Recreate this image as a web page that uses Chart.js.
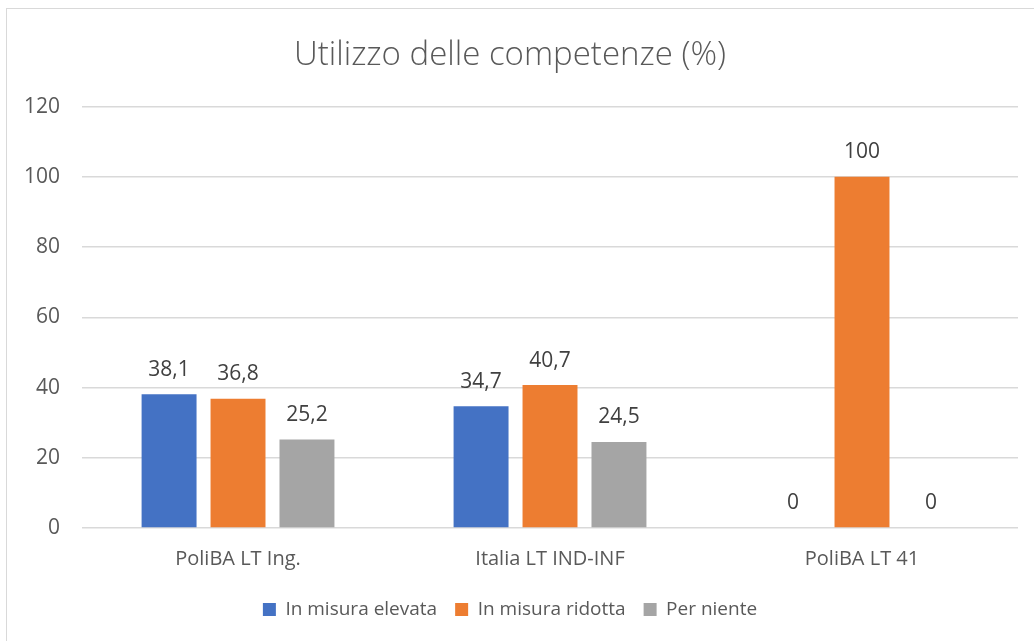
<!DOCTYPE html>
<html>
<head>
<meta charset="utf-8">
<script src="https://cdn.jsdelivr.net/npm/chart.js@4/dist/chart.umd.min.js"></script>
<style>
  html, body { margin: 0; padding: 0; background: #fff; overflow: hidden; }
  #frame {
    position: absolute; left: 6px; top: 8px;
    width: 1100px; height: 700px;
    border: 1px solid #d9d9d9;
  }
  #wrap { position: absolute; left: 0; top: 0; width: 1034px; height: 641px; }
</style>
</head>
<body>
<div id="frame"></div>
<div id="wrap"><canvas id="Chart" width="1034" height="641"></canvas></div>
<script>
const categories = ["PoliBA LT Ing.", "Italia LT IND-INF", "PoliBA LT 41"];
const elevata = [38.1, 34.7, 0];
const ridotta = [36.8, 40.7, 100];
const niente = [25.2, 24.5, 0];
const yTicks = [0, 20, 40, 60, 80, 100, 120];

const textColor = "#595959";
const fontFam = "'Open Sans', 'Noto Sans', sans-serif";

// labels above the bars, Italian decimal comma
const barLabels = {
  id: "barLabels",
  afterDatasetsDraw(chart) {
    const ctx = chart.ctx;
    ctx.save();
    ctx.font = "21px " + fontFam;
    ctx.fillStyle = "#404040";
    ctx.textAlign = "center";
    ctx.textBaseline = "bottom";
    chart.data.datasets.forEach(function (ds, i) {
      chart.getDatasetMeta(i).data.forEach(function (bar, j) {
        const txt = String(ds.data[j]).replace(".", ",");
        ctx.fillText(txt, bar.x, bar.y - 14);
      });
    });
    ctx.restore();
  }
};

new Chart("Chart", {
  type: "bar",
  data: {
    labels: categories,
    datasets: [{
      label: "In misura elevata",
      data: elevata,
      backgroundColor: "#4472C4"
    }, {
      label: "In misura ridotta",
      data: ridotta,
      backgroundColor: "#ED7D31"
    }, {
      label: "Per niente",
      data: niente,
      backgroundColor: "#A5A5A5"
    }]
  },
  options: {
    responsive: false,
    animation: false,
    datasets: {
      bar: { barPercentage: 0.797, categoryPercentage: 0.663 }
    },
    layout: { padding: { left: 2, right: 16, top: 36, bottom: 12 } },
    plugins: {
      title: {
        display: true,
        text: "Utilizzo delle competenze (%)",
        color: textColor,
        font: { family: fontFam, size: 33, weight: "300" },
        padding: { top: 0, bottom: 31 }
      },
      legend: {
        position: "bottom",
        labels: {
          color: textColor,
          font: { family: fontFam, size: 19 },
          boxWidth: 13,
          boxHeight: 13,
          padding: 18
        }
      },
      tooltip: { enabled: false }
    },
    scales: {
      x: {
        grid: { display: false },
        border: { display: false },
        ticks: {
          color: textColor,
          font: { family: fontFam, size: 20 },
          padding: 11
        }
      },
      y: {
        min: 0,
        max: 120,
        afterBuildTicks(axis) {
          axis.ticks = yTicks.map(function (v) { return { value: v }; });
        },
        grid: { color: "#d9d9d9", lineWidth: 1.5, drawTicks: false },
        border: { display: false },
        ticks: {
          color: textColor,
          font: { family: fontFam, size: 21 },
          padding: 22
        }
      }
    }
  },
  plugins: [barLabels]
});
</script>
</body>
</html>
